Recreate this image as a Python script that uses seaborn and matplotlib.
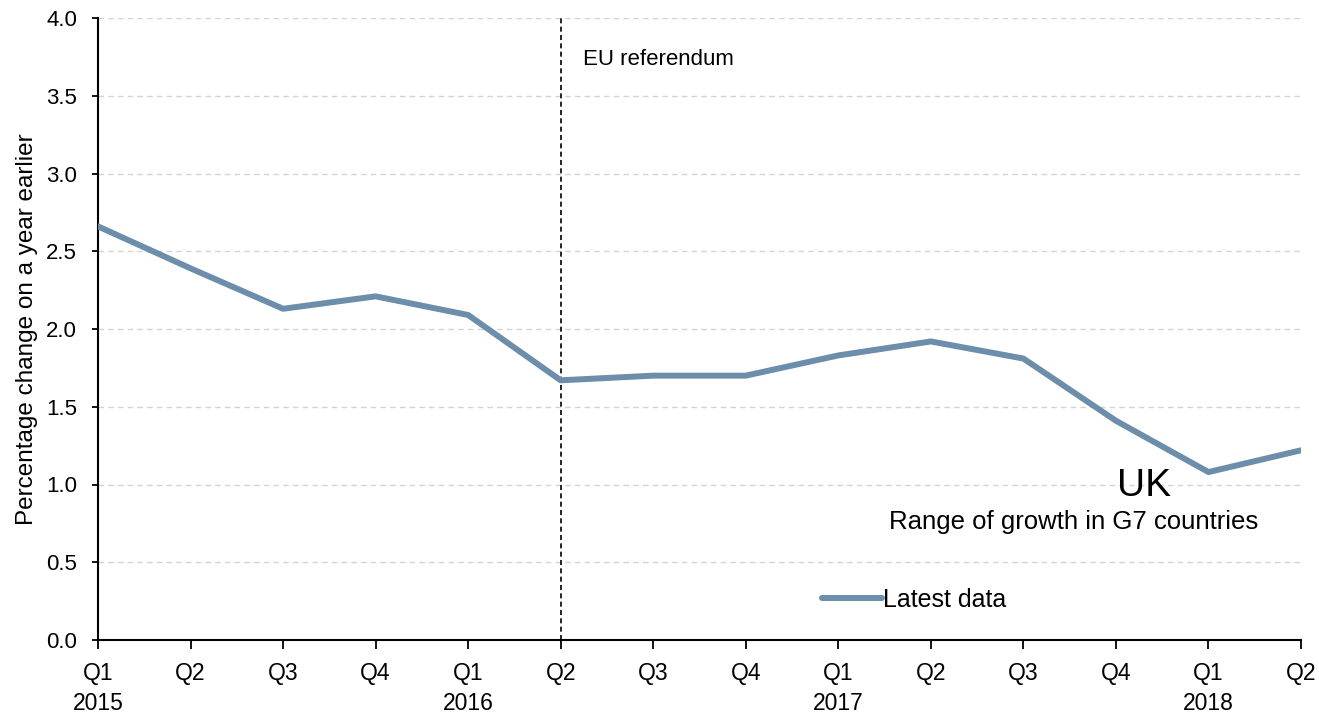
import matplotlib
matplotlib.use("Agg")
import matplotlib.pyplot as plt
import seaborn as sns
import pandas as pd

quarters = ["Q1\n2015", "Q2", "Q3", "Q4", "Q1\n2016", "Q2", "Q3", "Q4",
            "Q1\n2017", "Q2", "Q3", "Q4", "Q1\n2018", "Q2"]
uk_growth = [2.66, 2.39, 2.13, 2.21, 2.09, 1.67, 1.70, 1.70,
             1.83, 1.92, 1.81, 1.41, 1.08, 1.22]
y_ticks = [0.0, 0.5, 1.0, 1.5, 2.0, 2.5, 3.0, 3.5, 4.0]

sns.set_theme(style="white")
plt.rcParams['font.family'] = ['Liberation Sans', 'DejaVu Sans']
plt.rcParams['text.color'] = 'black'
plt.rcParams['xtick.color'] = 'black'
plt.rcParams['ytick.color'] = 'black'
plt.rcParams['axes.labelcolor'] = 'black'

df = pd.DataFrame({"idx": range(len(quarters)), "growth": uk_growth})

fig = plt.figure(figsize=(13.19, 7.18), dpi=100)
ax = fig.add_axes([98/1319, 1 - 640/718, (1301-98)/1319, (640-18)/718])

sns.lineplot(data=df, x="idx", y="growth", ax=ax, color="#6C8EAB",
             linewidth=4.3, label="Latest data", zorder=3)

ax.set_xlim(0, len(quarters) - 1)
ax.set_ylim(0, 4)
ax.set_yticks(y_ticks)
ax.set_yticklabels([f"{v:.1f}" for v in y_ticks])
ax.set_xticks(range(len(quarters)))
ax.set_xticklabels(quarters, linespacing=1.4)
ax.tick_params(axis="x", labelsize=16.5, direction="out", length=6.5, width=1.3,
               bottom=True, pad=9)
ax.tick_params(axis="y", labelsize=16, direction="out", length=4.5, width=1.3,
               left=True, pad=10.5)
ax.set_xlabel("")
ax.set_ylabel("Percentage change on a year earlier", fontsize=17.5, labelpad=6)
ax.yaxis.grid(True, linestyle=(0, (4, 3)), color="#D3D3D3", linewidth=1)
ax.set_axisbelow(True)
for s in ["top", "right"]:
    ax.spines[s].set_visible(False)
for s in ["left", "bottom"]:
    ax.spines[s].set_color("black")
    ax.spines[s].set_linewidth(1.5)

ax.axvline(5, color="black", linestyle=(0, (3, 2)), linewidth=1.2, zorder=2)
ax.text(5.24, 3.73, "EU referendum", fontsize=16, va="center", ha="left")

ax.text(11.30, 0.99, "UK", fontsize=28, ha="center", va="center")
ax.text(10.54, 0.76, "Range of growth in G7 countries", fontsize=18.5,
        ha="center", va="center")

leg = ax.legend(loc="center left", bbox_to_anchor=(0.602, 0.064), frameon=False,
                fontsize=18, handlelength=2.4, handletextpad=0.05,
                borderaxespad=0, borderpad=0)

fig.savefig("out.png", dpi=100)
